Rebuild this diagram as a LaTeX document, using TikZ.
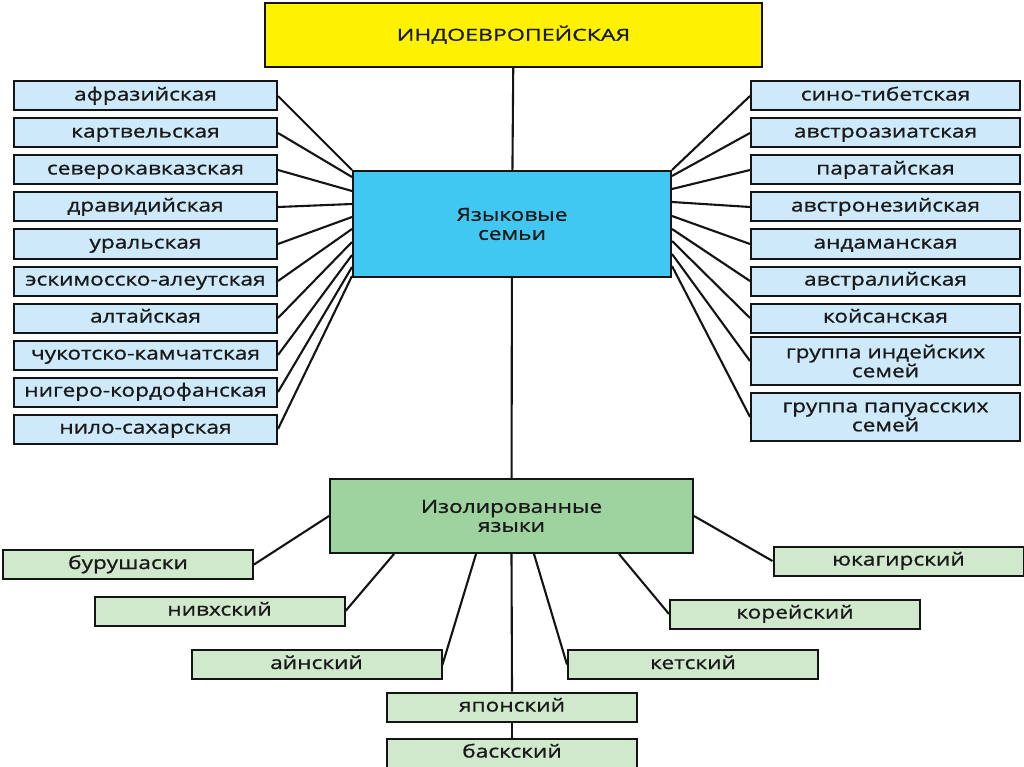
\documentclass[tikz,border=0pt]{standalone}
\usepackage{fontspec}
\setmainfont{Open Sans}[FakeStretch=1.26, FakeBold=1]
\newfontfamily\titlefont{Open Sans}[FakeStretch=1.4, FakeBold=1]
\usetikzlibrary{positioning}
\definecolor{TopColor}{RGB}{255,242,0}
\definecolor{FamilyColor}{RGB}{64,200,242}
\definecolor{FamilyLight}{RGB}{205,233,250}
\definecolor{IsolateColor}{RGB}{158,210,158}
\definecolor{IsolateLight}{RGB}{208,233,205}
\definecolor{EdgeColor}{RGB}{20,20,20}
\tikzset{
  box/.style={draw=EdgeColor, line width=2pt, inner sep=0pt, align=center, text=black!90, font=\fontsize{18}{19}\selectfont},
  oneline/.style={text height=13.5pt, text depth=4.5pt},
  famitem/.style={box, fill=FamilyLight, minimum height=29pt},
  isoitem/.style={box, oneline, fill=IsolateLight, minimum width=250pt, minimum height=29pt},
  link/.style={draw=EdgeColor, line width=2.1pt}
}

\begin{document}
\begin{tikzpicture}[x=1pt, y=-1pt]
  \useasboundingbox (0,0) rectangle (1024,767);
  % main boxes
  \node[box, text height=15pt, text depth=3.6pt, fill=TopColor, minimum width=497pt, minimum height=64pt, font=\titlefont\fontsize{16.5}{19}\selectfont] (indo) at (513.5,35) {ИНДОЕВРОПЕЙСКАЯ};
  \node[box, fill=FamilyColor, minimum width=318pt, minimum height=106pt] (fam) at (512,224) {Языковые\\семьи};
  \node[box, fill=IsolateColor, minimum width=363pt, minimum height=74pt] (iso) at (511.5,516) {Изолированные\\языки};
  \draw[link] (indo) -- (fam);
  \draw[link] (fam) -- (iso);
  % language families, left column
  \foreach \name [count=\i] in {афразийская, картвельская, северокавказская, дравидийская, уральская, эскимосско-алеутская, алтайская, чукотско-камчатская, нигеро-кордофанская, нило-сахарская}
    \node[famitem, oneline, minimum width=263pt] (l\i) at (145.5,{59+37*\i}) {\name};
  % language families, right column
  \foreach \name [count=\i] in {сино-тибетская, австроазиатская, паратайская, австронезийская, андаманская, австралийская, койсанская}
    \node[famitem, oneline, minimum width=269pt] (r\i) at (885.5,{59+37*\i}) {\name};
  \node[famitem, minimum width=269pt, minimum height=48pt] (r8) at (885.5,361) {группа индейских\\семей};
  \node[famitem, minimum width=269pt, minimum height=48pt] (r9) at (885.5,417) {группа папуасских\\семей};
  \foreach \i/\d in {1/0, 2/7, 3/21, 4/34, 5/47, 6/59, 7/72, 8/85, 9/97, 10/106}
    \draw[link] (l\i.east) -- ([yshift=-\d pt]fam.north west);
  \foreach \i/\d in {1/0, 2/6, 3/19, 4/32, 5/46, 6/59, 7/71, 8/84, 9/96}
    \draw[link] (r\i.west) -- ([yshift=-\d pt]fam.north east);
  % isolates
  \node[isoitem] (bur) at (128,564.5) {бурушаски};
  \node[isoitem] (niv) at (219.5,611) {нивхский};
  \node[isoitem] (ain) at (316.5,664.5) {айнский};
  \node[isoitem] (jap) at (512,707) {японский};
  \node[isoitem, below=15pt of jap] (bask) {баскский};
  \node[isoitem] (yuk) at (898.5,561) {юкагирский};
  \node[isoitem] (kor) at (795,614) {корейский};
  \node[isoitem] (ket) at (693,664.5) {кетский};
  \draw[link] (iso.west) -- (bur.east);
  \draw[link] ([xshift=65pt]iso.south west) -- (niv.east);
  \draw[link] ([xshift=147pt]iso.south west) -- (ain.east);
  \draw[link] (iso.south) -- (jap.north);
  \draw[link] (jap) -- (bask);
  \draw[link] ([xshift=205pt]iso.south west) -- (ket.west);
  \draw[link] ([xshift=290pt]iso.south west) -- (kor.west);
  \draw[link] (iso.east) -- (yuk.west);
\end{tikzpicture}
\end{document}
